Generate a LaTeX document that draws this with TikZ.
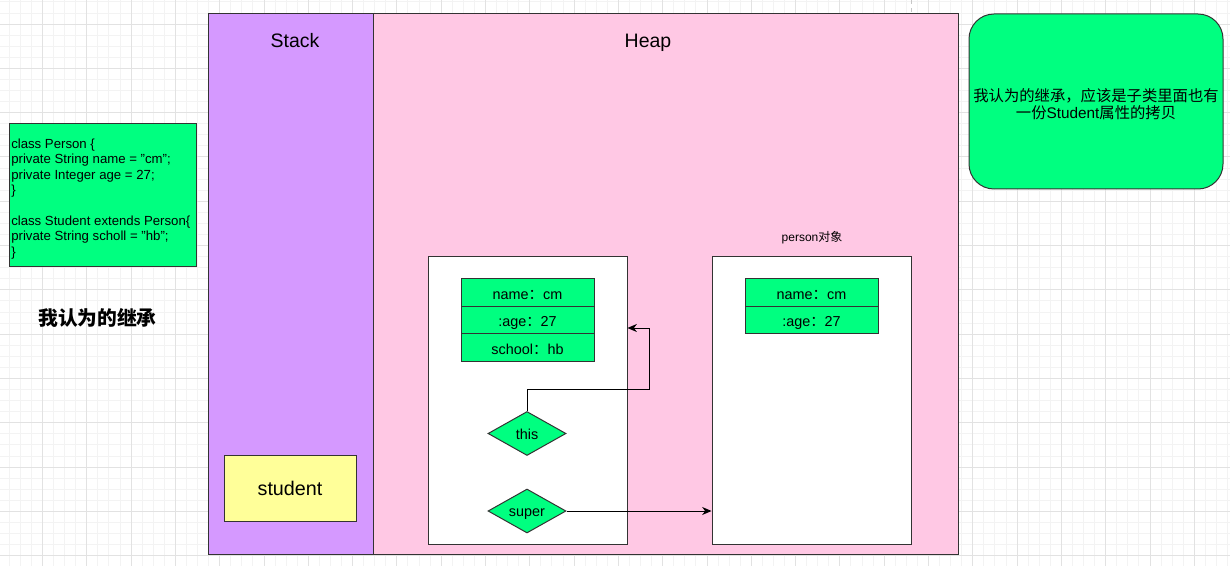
\documentclass[tikz,border=0pt]{standalone}
\usepackage{fontspec}
\setmainfont{Liberation Sans}
\newfontfamily\cjk{Noto Sans CJK SC}
\usetikzlibrary{shapes.geometric,fit,arrows.meta}
\definecolor{stackc}{HTML}{D599FF}
\definecolor{heapc}{HTML}{FFC8E4}
\definecolor{grn}{HTML}{00FF80}
\definecolor{yel}{HTML}{FFFF99}
\definecolor{bord}{HTML}{333333}
\definecolor{gminor}{HTML}{F3F3F3}
\definecolor{gmajor}{HTML}{E2E2E2}
\tikzset{
  lbl/.style={inner sep=0pt, text=black},
  frame/.style={draw=bord, line width=0.75pt, inner sep=0pt},
  field/.style={frame, fill=grn, minimum width=99.75pt, minimum height=20.5pt,
    text height=11pt, text depth=1pt, font=\fontsize{10.8pt}{13pt}\selectfont},
  dia/.style={diamond, draw=bord, line width=0.75pt, fill=grn, inner sep=0pt,
    minimum width=58.5pt, minimum height=33pt, text height=10pt, text depth=1.5pt,
    font=\fontsize{10.8pt}{13pt}\selectfont},
  arr/.style={draw=black, line width=0.75pt, -{Stealth[length=7pt,width=6pt,inset=2.2pt]}},
  gridminor/.style={draw=gminor, line width=0.6pt},
  gridmajor/.style={draw=gmajor, line width=0.6pt},
  pagebrk/.style={draw=gray!45, line width=0.75pt, dash pattern=on 3pt off 3pt}
}
\begin{document}
\begin{tikzpicture}[x=0.75pt,y=-0.75pt]
\useasboundingbox (0,0) rectangle (1230,566);
\fill[white] (0,0) rectangle (1230,566);
% grid
\foreach \i in {1,...,111} { \draw[gridminor] ({-1.9+\i*11.075},0) -- ({-1.9+\i*11.075},566); }
\foreach \i in {0,...,50} { \draw[gridminor] (0,{1.85+\i*11.075}) -- (1230,{1.85+\i*11.075}); }
\foreach \i in {1,...,27} { \draw[gridmajor] ({-1.9+\i*44.3},0) -- ({-1.9+\i*44.3},566); }
\foreach \i in {0,...,12} { \draw[gridmajor] (0,{24+\i*44.3}) -- (1230,{24+\i*44.3}); }
\draw[pagebrk] (911,0) -- (911,14);

% containers
\node[frame, fill=stackc, fit={(208,14) (373,554)}] (stack) {};
\node[frame, fill=heapc, fit={(373,14) (958,554)}] (heap) {};
\node[lbl, anchor=base, font=\fontsize{14.6pt}{16pt}\selectfont] (stacklbl) at (295,47.3) {Stack};
\node[lbl, anchor=base, font=\fontsize{14.6pt}{16pt}\selectfont] (heaplbl) at (648,47.3) {Heap};

% stack variable
\node[frame, fill=yel, minimum width=99pt, minimum height=49.5pt,
  font=\fontsize{14.8pt}{16pt}\selectfont] (student) at (290,488) {student};

% objects
\node[frame, fill=white, fit={(428,257) (627,544)}] (objA) {};
\node[frame, fill=white, fit={(712,257) (911,544)}] (objB) {};
\node[lbl, font=\fontsize{9pt}{11pt}\selectfont] (objBlbl) at (812,237.5) {person{\cjk 对象}};

\node[field] (aname) at (527.5,292.5) {name{\cjk ：}cm};
\node[field] (aage) at (527.5,320) {:age{\cjk ：}27};
\node[field] (aschool) at (527.5,347.5) {school{\cjk ：}hb};
\node[field] (bname) at (811.5,292.5) {name{\cjk ：}cm};
\node[field] (bage) at (811.5,320) {:age{\cjk ：}27};

\node[dia] (this) at (527,433.5) {\makebox[0pt]{this}};
\node[dia] (super) at (527,511) {\makebox[0pt]{super}};

\coordinate (bend) at (649,389);
\coordinate (hit) at (0,328);
\draw[arr] (this.north) |- (bend) |- (objA.east |- hit);
\draw[arr] (super.east) -- (objB.west |- super.east);

% code box
\node[frame, fill=grn, minimum width=140.25pt, minimum height=107.25pt] (code) at (102.5,195.5) {};
\node[lbl, anchor=west, align=left, font=\fontsize{9.9pt}{11.55pt}\selectfont] (codetxt) at (11,199)
  {class Person \{\\private String name = "cm";\\private Integer age = 27;\\\}\\[11.55pt]class Student extends Person\{\\private String scholl = "hb";\\\}};

\node[lbl, font=\cjk\bfseries\fontsize{14.8pt}{16pt}\selectfont] (mine) at (97.5,318) {我认为的继承};

% note
\node[frame, fill=grn, rounded corners=18.75pt, minimum width=190.5pt, minimum height=131.25pt] (note) at (1096,101.5) {};
\node[lbl, align=center, font=\fontsize{11.5pt}{12.4pt}\selectfont] (notetxt) at (1096,104)
  {{\cjk 我认为的继承，应该是子类里面也有}\\{\cjk 一份}Student{\cjk 属性的拷贝}};
\end{tikzpicture}
\end{document}
